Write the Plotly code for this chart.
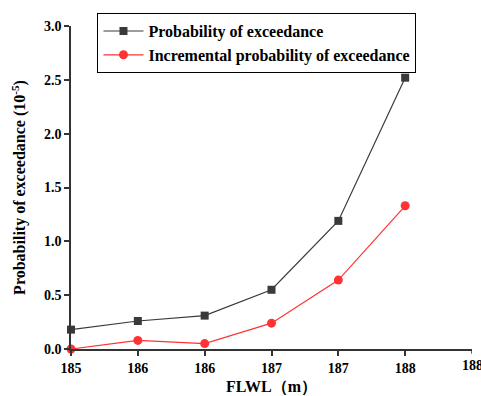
import plotly.graph_objects as go

flwl = [185.0, 185.5, 186.0, 186.5, 187.0, 187.5]
prob_exceed = [0.18, 0.26, 0.31, 0.55, 1.19, 2.52]
incr_prob = [0.0, 0.08, 0.05, 0.24, 0.64, 1.33]
tick_vals = [185.0, 185.5, 186.0, 186.5, 187.0, 187.5, 188.0]
tick_labels = ["185", "186", "186", "187", "187", "188", "188"]
y_ticks = [0.0, 0.5, 1.0, 1.5, 2.0, 2.5, 3.0]

font_family = "Liberation Serif"

fig = go.Figure()
fig.add_trace(go.Scatter(
    x=flwl, y=prob_exceed, mode="lines+markers",
    name="<b>Probability of exceedance</b>",
    line=dict(color="#3a3a3a", width=1.2),
    marker=dict(symbol="square", size=8, color="#3a3a3a"),
    cliponaxis=False,
))
fig.add_trace(go.Scatter(
    x=flwl, y=incr_prob, mode="lines+markers",
    name="<b>Incremental probability of exceedance</b>",
    line=dict(color="#ff3333", width=1.2),
    marker=dict(symbol="circle", size=9, color="#ff3333"),
    cliponaxis=False,
))

# last tick label overflows the right edge (plotly hides it), draw it as text
fig.add_annotation(
    x=tick_vals[-1], y=0, xref="x", yref="y", text="<b>" + tick_labels[-1] + "</b>",
    showarrow=False, xanchor="center", yanchor="top", yshift=-7,
    font=dict(family=font_family, size=14, color="black"),
)

fig.update_layout(
    width=481, height=396,
    margin=dict(l=71, r=9, t=26, b=47),
    paper_bgcolor="white", plot_bgcolor="white",
    font=dict(family=font_family, size=14, color="black"),
    showlegend=True,
    legend=dict(
        x=0.066, y=1.04, xanchor="left", yanchor="top",
        bordercolor="black", borderwidth=1, bgcolor="white",
        font=dict(family=font_family, size=16, color="black"),
        tracegroupgap=0, itemwidth=40,
    ),
    xaxis=dict(
        range=[185, 188], automargin=False,
        tickvals=tick_vals[:-1], ticktext=tick_labels[:-1],
        showgrid=False, zeroline=False,
        showline=True, linecolor="#333", linewidth=1.5,
        ticks="outside", ticklen=5, tickwidth=1.5, tickcolor="#333",
        tickfont=dict(family=font_family, size=14, color="black", weight="bold"),
        title=dict(text="<b>FLWL（m）</b>", font=dict(family=font_family, size=16), standoff=8),
    ),
    yaxis=dict(
        range=[0, 3.0], automargin=False,
        tickvals=y_ticks, tickformat=".1f",
        showgrid=False, zeroline=False,
        showline=True, linecolor="#333", linewidth=1.5,
        ticks="outside", ticklen=5, tickwidth=1.5, tickcolor="#333",
        tickfont=dict(family=font_family, size=14, color="black", weight="bold"),
        title=dict(text="<b>Probability of exceedance (10<sup>-5</sup>)</b>", font=dict(family=font_family, size=16), standoff=14),
    ),
)

# tick mark at the axis end (188)
fig.add_shape(type="line", xref="x", yref="paper", x0=tick_vals[-1], x1=tick_vals[-1],
              y0=0, y1=-0.0145, line=dict(color="#333", width=1.5))

fig.write_html("out.html")
